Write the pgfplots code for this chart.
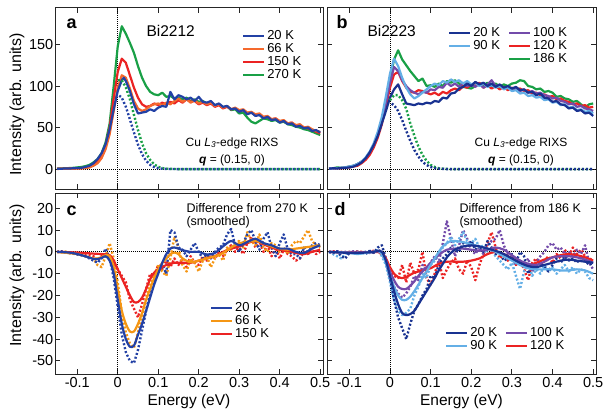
\documentclass[border=0pt]{standalone}
\usepackage{fontspec}
\setmainfont{Liberation Sans}
\usepackage{pgfplots}
\pgfplotsset{compat=1.18}

\definecolor{cBlue}{RGB}{35,65,165}
\definecolor{cOrA}{RGB}{245,105,45}
\definecolor{cRed}{RGB}{235,35,35}
\definecolor{cGreen}{RGB}{25,160,70}
\definecolor{cNavy}{RGB}{25,50,145}
\definecolor{cLBlue}{RGB}{100,175,230}
\definecolor{cPurple}{RGB}{115,75,170}
\definecolor{cOrC}{RGB}{245,150,20}

\pgfplotsset{
  panel/.style={
    scale only axis, width=268bp, height=181bp,
    xmin=-0.155, xmax=0.507,
    xtick={-0.1,0,0.1,0.2,0.3,0.4,0.5},
    tick align=inside, tick pos=both,
    major tick length=5bp,
    axis line style={line width=1bp, black!85},
    every tick/.style={line width=0.9bp, black!85},
    tick label style={font=\fontsize{14.5bp}{15bp}\selectfont},
    yticklabel style={inner xsep=1.5bp},
    /pgf/number format/assume math mode=true,
    xlabel style={font=\fontsize{15.5bp}{16bp}\selectfont},
    legend style={draw=none, fill=none, font=\fontsize{13bp}{13bp}\selectfont, inner sep=0pt, outer sep=0pt, row sep=-1.5bp},
    legend cell align=left,
    legend image code/.code={\draw[##1] (0bp,0bp) -- (21bp,0bp);},
  },
  zl/.style={black, line width=0.8bp, dash pattern=on 1bp off 1bp, forget plot},
  sl/.style={line width=2.2bp, forget plot, line join=round},
  dl/.style={line width=2.4bp, dash pattern=on 2bp off 2bp, forget plot, line join=round},
}

\begin{document}
\begin{tikzpicture}
\useasboundingbox (0,0) rectangle (605bp,-412bp);

% ---------------- panel a ----------------
\begin{axis}[panel, at={(55bp,-8bp)}, anchor=north west,
  ymin=-24, ymax=194, ytick={0,50,100,150}, xticklabels={},
  ylabel={Intensity (arb. units)},
  every axis y label/.style={at={(axis description cs:-0.142,0.467)}, rotate=90, anchor=center, font=\fontsize{16bp}{16bp}\selectfont},
  legend style={at={(axis description cs:0.698,0.887)}, anchor=north west}]
\addplot[zl] coordinates {(0,-30) (0,200)};
\addplot[zl] coordinates {(-0.2,0) (0.6,0)};
% 270 K
\addplot[sl, cGreen] coordinates {(-0.15,0.5)(-0.14,0.8)(-0.13,1)(-0.12,1.2)(-0.11,1.5)(-0.10,2)(-0.09,2.5)(-0.08,3.5)(-0.07,5)(-0.06,8)(-0.05,12)(-0.04,19)(-0.03,32)(-0.02,55)(-0.01,100)(0,148)(0.01,172)(0.02,163)(0.03,152)(0.04,140)(0.05,124)(0.06,110)(0.07,100)(0.08,93)(0.09,90)(0.10,89)(0.11,92)(0.12,87)(0.13,88)(0.14,85)(0.15,86)(0.16,84)(0.17,86)(0.18,82)(0.19,84)(0.20,81)(0.21,82)(0.22,79)(0.23,80)(0.24,77)(0.25,78)(0.26,74)(0.27,76)(0.28,71)(0.29,72)(0.30,67)(0.31,68)(0.32,62)(0.33,57)(0.34,55)(0.35,58)(0.36,61)(0.37,60)(0.38,58)(0.39,59)(0.40,56)(0.41,57)(0.42,54)(0.43,53)(0.44,51)(0.45,50)(0.46,48)(0.47,47)(0.48,45)(0.49,43)(0.50,41)};
% 150 K
\addplot[sl, cRed] coordinates {(-0.15,0.3)(-0.14,0.5)(-0.13,0.4)(-0.12,0.7)(-0.11,0.8)(-0.10,1)(-0.09,1.2)(-0.08,1.5)(-0.07,2.5)(-0.06,5)(-0.05,9)(-0.04,16)(-0.03,28)(-0.02,50)(-0.01,85)(0,117)(0.01,133)(0.02,128)(0.03,113)(0.04,98)(0.05,86)(0.06,78)(0.07,75)(0.08,76)(0.09,79)(0.10,77)(0.11,80)(0.12,78)(0.13,81)(0.14,79)(0.15,83)(0.16,80)(0.17,84)(0.18,81)(0.19,82)(0.20,78)(0.21,80)(0.22,77)(0.23,79)(0.24,75)(0.25,77)(0.26,73)(0.27,75)(0.28,72)(0.29,73)(0.30,70)(0.31,71)(0.32,67)(0.33,68)(0.34,65)(0.35,66)(0.36,62)(0.37,63)(0.38,60)(0.39,61)(0.40,57)(0.41,58)(0.42,55)(0.43,56)(0.44,52)(0.45,53)(0.46,50)(0.47,49)(0.48,47)(0.49,45)(0.50,43)};
% 66 K
\addplot[sl, cOrA] coordinates {(-0.15,0)(-0.14,0.5)(-0.13,0.3)(-0.12,0.5)(-0.11,0.4)(-0.10,0.6)(-0.09,0.8)(-0.08,1.2)(-0.07,2)(-0.06,4)(-0.05,7)(-0.04,13)(-0.03,24)(-0.02,42)(-0.01,70)(0,98)(0.01,113)(0.02,110)(0.03,97)(0.04,82)(0.05,73)(0.06,70)(0.07,72)(0.08,76)(0.09,78)(0.10,79)(0.11,77)(0.12,80)(0.13,78)(0.14,82)(0.15,85)(0.16,81)(0.17,84)(0.18,80)(0.19,83)(0.20,79)(0.21,81)(0.22,78)(0.23,80)(0.24,76)(0.25,78)(0.26,74)(0.27,76)(0.28,72)(0.29,74)(0.30,71)(0.31,72)(0.32,68)(0.33,69)(0.34,66)(0.35,67)(0.36,63)(0.37,64)(0.38,60)(0.39,61)(0.40,58)(0.41,59)(0.42,55)(0.43,56)(0.44,53)(0.45,54)(0.46,50)(0.47,51)(0.48,48)(0.49,46)(0.50,45)};
% 20 K
\addplot[sl, cBlue] coordinates {(-0.15,0.5)(-0.14,0.3)(-0.13,0.8)(-0.12,0.6)(-0.11,1.0)(-0.10,1.2)(-0.09,1.5)(-0.08,2.5)(-0.07,4)(-0.06,7)(-0.05,12)(-0.04,19)(-0.03,30)(-0.02,48)(-0.01,72)(0,94)(0.01,107)(0.015,110)(0.02,106)(0.03,94)(0.04,78)(0.05,67)(0.06,68)(0.07,69)(0.08,72)(0.09,70)(0.10,74)(0.11,76)(0.12,75)(0.13,93)(0.14,84)(0.15,89)(0.16,87)(0.17,84)(0.18,86)(0.19,82)(0.20,87)(0.21,81)(0.22,80)(0.23,82)(0.24,77)(0.25,79)(0.26,75)(0.27,76)(0.28,72)(0.29,73)(0.30,69)(0.31,71)(0.32,66)(0.33,68)(0.34,64)(0.35,65)(0.36,61)(0.37,63)(0.38,59)(0.39,60)(0.40,56)(0.41,58)(0.42,54)(0.43,55)(0.44,51)(0.45,52)(0.46,49)(0.47,50)(0.48,46)(0.49,47)(0.50,44)};
% elastic (dotted)
\addplot[dl, cGreen] coordinates {(0,107)(0.01,107)(0.02,98.5)(0.03,84)(0.04,65.5)(0.05,47)(0.06,31)(0.07,19)(0.08,11)(0.09,5.7)(0.10,2.7)(0.11,1.2)(0.12,0.5)(0.13,0.2)(0.15,0)(0.50,0)};
\addplot[dl, cBlue, dash phase=2bp] coordinates {(0,90)(0.01,86)(0.02,75)(0.03,60)(0.04,44)(0.05,29.5)(0.06,18)(0.07,10)(0.08,5.2)(0.09,2.4)(0.10,1.0)(0.11,0.4)(0.12,0.1)(0.15,0)(0.50,0)};
\addlegendimage{line width=2.2bp, cBlue}\addlegendentry{20 K}
\addlegendimage{line width=2.2bp, cOrA}\addlegendentry{66 K}
\addlegendimage{line width=2.2bp, cRed}\addlegendentry{150 K}
\addlegendimage{line width=2.2bp, cGreen}\addlegendentry{270 K}
\end{axis}

% ---------------- panel b ----------------
\begin{axis}[panel, at={(327bp,-8bp)}, anchor=north west, width=269bp,
  ymin=-24, ymax=194, ytick={0,50,100,150}, xticklabels={}, yticklabels={},
  legend columns=2,
  legend style={at={(axis description cs:0.450,0.904)}, anchor=north west,
    /tikz/every even column/.append style={column sep=6bp}}]
\addplot[zl] coordinates {(0,-30) (0,200)};
\addplot[zl] coordinates {(-0.2,0) (0.6,0)};
% 186 K
\addplot[sl, cGreen] coordinates {(-0.15,0.5)(-0.14,1)(-0.13,2)(-0.12,1.5)(-0.11,2)(-0.10,3)(-0.09,4)(-0.08,6)(-0.07,9)(-0.06,13)(-0.05,19)(-0.04,28)(-0.03,40)(-0.02,57)(-0.01,80)(0,108)(0.01,132)(0.02,143)(0.03,132)(0.04,125)(0.05,118)(0.06,112)(0.07,106)(0.08,109)(0.09,100)(0.10,101)(0.11,99)(0.12,103)(0.13,100)(0.14,106)(0.15,104)(0.16,107)(0.17,103)(0.18,99)(0.19,98)(0.20,97)(0.21,100)(0.22,103)(0.23,101)(0.24,104)(0.25,100)(0.26,103)(0.27,99)(0.28,102)(0.29,100)(0.30,103)(0.31,104)(0.32,107)(0.33,106)(0.34,100)(0.35,99)(0.36,96)(0.37,97)(0.38,93)(0.39,94)(0.40,92)(0.41,87)(0.42,88)(0.43,85)(0.44,84)(0.45,81)(0.46,82)(0.47,78)(0.48,74)(0.49,78)(0.50,79)};
% 120 K
\addplot[sl, cRed] coordinates {(-0.15,0.3)(-0.14,0.6)(-0.13,0.8)(-0.12,1)(-0.11,1.5)(-0.10,2)(-0.09,3)(-0.08,4)(-0.07,7)(-0.06,11)(-0.05,17)(-0.04,26)(-0.03,38)(-0.02,54)(-0.01,76)(0,98)(0.01,114)(0.02,117)(0.03,106)(0.04,98)(0.05,93)(0.06,92)(0.07,95)(0.08,94)(0.09,92)(0.10,90)(0.11,92)(0.12,89)(0.13,93)(0.14,91)(0.15,95)(0.16,97)(0.17,95)(0.18,100)(0.19,98)(0.20,102)(0.21,100)(0.22,104)(0.23,98)(0.24,101)(0.25,97)(0.26,100)(0.27,96)(0.28,99)(0.29,95)(0.30,98)(0.31,96)(0.32,97)(0.33,94)(0.34,95)(0.35,91)(0.36,92)(0.37,89)(0.38,90)(0.39,87)(0.40,88)(0.41,84)(0.42,85)(0.43,82)(0.44,81)(0.45,78)(0.46,79)(0.47,76)(0.48,77)(0.49,74)(0.50,75)};
% 100 K
\addplot[sl, cPurple] coordinates {(-0.15,0.5)(-0.14,1)(-0.13,1)(-0.12,1.5)(-0.11,2)(-0.10,3)(-0.09,4)(-0.08,6)(-0.07,9)(-0.06,13)(-0.05,20)(-0.04,29)(-0.03,42)(-0.02,58)(-0.01,80)(0,104)(0.01,123)(0.02,118)(0.03,107)(0.04,100)(0.05,95)(0.06,92)(0.07,90)(0.08,93)(0.09,92)(0.10,96)(0.11,95)(0.12,99)(0.13,98)(0.14,104)(0.15,100)(0.16,103)(0.17,99)(0.18,104)(0.19,100)(0.20,102)(0.21,99)(0.22,103)(0.23,98)(0.24,102)(0.25,107)(0.26,100)(0.27,101)(0.28,97)(0.29,99)(0.30,96)(0.31,98)(0.32,94)(0.33,96)(0.34,92)(0.35,94)(0.36,91)(0.37,92)(0.38,89)(0.39,88)(0.40,85)(0.41,86)(0.42,82)(0.43,81)(0.44,78)(0.45,79)(0.46,75)(0.47,76)(0.48,73)(0.49,72)(0.50,70)};
% 90 K
\addplot[sl, cLBlue] coordinates {(-0.15,0.5)(-0.14,0.8)(-0.13,1)(-0.12,1.5)(-0.11,2)(-0.10,3)(-0.09,4)(-0.08,6)(-0.07,9)(-0.06,14)(-0.05,21)(-0.04,31)(-0.03,45)(-0.02,63)(-0.01,88)(0,115)(0.01,133)(0.02,124)(0.03,110)(0.04,98)(0.05,90)(0.06,85)(0.07,88)(0.08,92)(0.09,96)(0.10,100)(0.11,103)(0.12,101)(0.13,106)(0.14,104)(0.15,108)(0.16,105)(0.17,107)(0.18,103)(0.19,106)(0.20,102)(0.21,104)(0.22,100)(0.23,103)(0.24,99)(0.25,101)(0.26,98)(0.27,100)(0.28,96)(0.29,98)(0.30,94)(0.31,95)(0.32,91)(0.33,92)(0.34,88)(0.35,89)(0.36,86)(0.37,87)(0.38,83)(0.39,84)(0.40,80)(0.41,81)(0.42,77)(0.43,78)(0.44,74)(0.45,75)(0.46,71)(0.47,72)(0.48,69)(0.49,70)(0.50,67)};
% 20 K
\addplot[sl, cNavy] coordinates {(-0.15,0.5)(-0.14,1)(-0.13,0.8)(-0.12,1.2)(-0.11,1.5)(-0.10,2)(-0.09,3)(-0.08,5)(-0.07,8)(-0.06,13)(-0.05,20)(-0.04,29)(-0.03,40)(-0.02,55)(-0.01,70)(0,86)(0.01,96)(0.02,102)(0.03,90)(0.04,79)(0.05,78)(0.06,77)(0.07,79)(0.08,78)(0.09,80)(0.10,79)(0.11,82)(0.12,81)(0.13,86)(0.14,85)(0.15,91)(0.16,92)(0.17,97)(0.18,99)(0.19,103)(0.20,100)(0.21,105)(0.22,102)(0.23,104)(0.24,100)(0.25,103)(0.26,99)(0.27,102)(0.28,98)(0.29,100)(0.30,97)(0.31,99)(0.32,95)(0.33,96)(0.34,92)(0.35,93)(0.36,89)(0.37,91)(0.38,86)(0.39,85)(0.40,81)(0.41,82)(0.42,78)(0.43,77)(0.44,73)(0.45,74)(0.46,70)(0.47,71)(0.48,67)(0.49,68)(0.50,64)};
% elastic (dotted)
\addplot[dl, cGreen] coordinates {(0,83)(0.01,89)(0.02,89)(0.03,83)(0.04,72.5)(0.05,55)(0.06,40)(0.07,27)(0.08,17)(0.09,10)(0.10,5)(0.11,2.5)(0.12,1)(0.13,0.4)(0.15,0)(0.50,0)};
\addplot[dl, cNavy, dash phase=2bp] coordinates {(0,80)(0.01,77)(0.02,70)(0.03,59)(0.04,46)(0.05,34)(0.06,23)(0.07,15)(0.08,8.7)(0.09,4.9)(0.10,2.5)(0.11,1.2)(0.12,0.5)(0.14,0)(0.50,0)};
\addlegendimage{line width=2.2bp, cNavy}\addlegendentry{20 K}
\addlegendimage{line width=2.2bp, cPurple}\addlegendentry{100 K}
\addlegendimage{line width=2.2bp, cLBlue}\addlegendentry{90 K}
\addlegendimage{line width=2.2bp, cRed}\addlegendentry{120 K}
\addlegendimage{empty legend}\addlegendentry{}
\addlegendimage{line width=2.2bp, cGreen}\addlegendentry{186 K}
\end{axis}

% ---------------- panel c ----------------
\begin{axis}[panel, at={(55bp,-193bp)}, anchor=north west,
  ymin=-56, ymax=27, ytick={-50,-40,-30,-20,-10,0,10,20},
  xlabel={Energy (eV)},
  ylabel={Intensity (arb. units)},
  every axis y label/.style={at={(axis description cs:-0.142,0.544)}, rotate=90, anchor=center, font=\fontsize{16bp}{16bp}\selectfont},
  legend style={at={(axis description cs:0.578,0.407)}, anchor=north west}]
\addplot[zl] coordinates {(0,-60) (0,30)};
\addplot[zl] coordinates {(-0.2,0) (0.6,0)};
% unsmoothed
\addplot[dl, cRed] coordinates {(-0.15,0)(-0.14,0.3)(-0.13,-0.3)(-0.12,-0.5)(-0.11,-0.5)(-0.10,-0.8)(-0.09,-1)(-0.08,-1.2)(-0.07,-1.5)(-0.06,-2)(-0.05,-4)(-0.04,-2)(-0.03,-1)(-0.02,-2)(-0.01,-5)(0,-8)(0.01,-11)(0.02,-14)(0.03,-22)(0.04,-26)(0.05,-30)(0.06,-24)(0.07,-17)(0.08,-10)(0.09,-11)(0.10,-6)(0.11,-8)(0.12,-4)(0.13,-7)(0.14,-3)(0.15,-6)(0.16,-3)(0.17,-7)(0.18,-2)(0.19,-5)(0.20,-6)(0.21,-2)(0.22,-4)(0.23,-1)(0.24,-3)(0.25,0)(0.26,-2)(0.27,1)(0.28,3)(0.29,0)(0.30,2)(0.31,-1)(0.32,4)(0.33,7)(0.34,2)(0.35,5)(0.36,0)(0.37,3)(0.38,-2)(0.39,2)(0.40,-3)(0.41,1)(0.42,-1)(0.43,-2)(0.44,-4)(0.45,-3)(0.46,0)(0.47,-1)(0.48,1)(0.49,-1)(0.50,0)};
\addplot[dl, cOrC] coordinates {(-0.15,0)(-0.14,-0.3)(-0.13,0.2)(-0.12,-0.5)(-0.11,-0.8)(-0.10,-1)(-0.09,-1.5)(-0.08,-2)(-0.07,-2.5)(-0.06,-3)(-0.05,-6)(-0.04,-7)(-0.03,-2)(-0.02,4)(-0.01,-3)(0,-14)(0.01,-28)(0.02,-37)(0.03,-42)(0.04,-44)(0.05,-37)(0.06,-30)(0.07,-22)(0.08,-15)(0.09,-11)(0.10,-6)(0.11,-9)(0.12,-11)(0.13,-3)(0.14,7)(0.15,2)(0.16,-6)(0.17,-9)(0.18,-3)(0.19,-5)(0.20,-9)(0.21,-4)(0.22,-2)(0.23,-7)(0.24,-3)(0.25,-1)(0.26,-4)(0.27,2)(0.28,1)(0.29,4)(0.30,5)(0.31,2)(0.32,9)(0.33,5)(0.34,3)(0.35,8)(0.36,2)(0.37,0)(0.38,4)(0.39,3)(0.40,0)(0.41,2)(0.42,-1)(0.43,3)(0.44,5)(0.45,4)(0.46,7)(0.47,10)(0.48,5)(0.49,3)(0.50,2)};
\addplot[dl, cBlue] coordinates {(-0.15,0)(-0.14,0.3)(-0.13,-0.3)(-0.12,-0.5)(-0.11,-0.8)(-0.10,-1.2)(-0.09,-1.5)(-0.08,-2)(-0.07,-3)(-0.06,-4)(-0.05,-5)(-0.04,-3)(-0.03,1.5)(-0.02,-3)(-0.01,-12)(0,-25)(0.01,-38)(0.02,-46)(0.03,-50)(0.04,-51)(0.05,-45)(0.06,-36)(0.07,-27)(0.08,-19)(0.09,-13)(0.10,-8)(0.11,-6)(0.12,-10)(0.13,10)(0.14,9)(0.15,2)(0.16,1)(0.17,-2)(0.18,1)(0.19,4)(0.20,0)(0.21,-3)(0.22,-1)(0.23,-3)(0.24,0)(0.25,2)(0.26,3)(0.27,8)(0.28,10.5)(0.29,3)(0.30,0)(0.31,4)(0.32,8)(0.33,10)(0.34,5)(0.35,1)(0.36,6)(0.37,9)(0.38,2)(0.39,-2)(0.40,4)(0.41,8)(0.42,1)(0.43,-1)(0.44,-1)(0.45,-3)(0.46,2)(0.47,-1)(0.48,3)(0.49,4)(0.50,3)};
% smoothed
\addplot[sl, cRed, smooth] coordinates {(-0.15,0)(-0.10,-0.3)(-0.06,-0.8)(-0.04,-1)(-0.02,-1.5)(-0.01,-4)(0,-8)(0.01,-12)(0.02,-16)(0.03,-20)(0.04,-23)(0.05,-23)(0.06,-21)(0.07,-17)(0.08,-12.5)(0.09,-9.5)(0.10,-8)(0.11,-7)(0.12,-6)(0.14,-5)(0.16,-5)(0.18,-5)(0.20,-4)(0.22,-3)(0.24,-2)(0.26,0)(0.28,1.5)(0.30,2.5)(0.32,4)(0.34,5)(0.36,3.5)(0.38,2)(0.40,1)(0.42,0.5)(0.44,-0.5)(0.46,-1)(0.48,0)(0.50,1)};
\addplot[sl, cOrC, smooth] coordinates {(-0.15,0)(-0.10,-1)(-0.08,-2)(-0.06,-3)(-0.05,-3)(-0.04,-2.5)(-0.03,-1.5)(-0.02,-2)(-0.01,-7)(0,-17)(0.01,-27)(0.02,-33)(0.03,-36.5)(0.04,-36.5)(0.05,-33)(0.06,-28)(0.07,-22)(0.08,-17)(0.09,-12)(0.10,-8)(0.11,-5)(0.12,-3)(0.13,-1)(0.14,-0.3)(0.15,-1)(0.16,-3)(0.18,-4.8)(0.20,-4)(0.22,-3)(0.24,-2)(0.26,-0.5)(0.28,2)(0.30,4)(0.32,4.5)(0.34,5)(0.36,4)(0.38,2.5)(0.40,1.5)(0.42,1)(0.44,1.5)(0.46,2)(0.48,2.5)(0.50,3)};
\addplot[sl, cBlue, smooth] coordinates {(-0.15,0)(-0.12,-0.3)(-0.10,-1)(-0.08,-2)(-0.06,-3.2)(-0.05,-3.3)(-0.04,-2.8)(-0.03,-2)(-0.02,-4)(-0.01,-10)(0,-22)(0.01,-33)(0.02,-40)(0.03,-43.5)(0.04,-43)(0.05,-38)(0.06,-33)(0.07,-27)(0.08,-21)(0.09,-15)(0.10,-10)(0.11,-5)(0.12,-1)(0.13,1.5)(0.14,2)(0.15,1.5)(0.16,0.8)(0.18,0)(0.20,0)(0.22,-1.2)(0.24,-0.5)(0.26,2.5)(0.28,5)(0.30,3)(0.32,4.5)(0.34,6)(0.36,4)(0.38,3)(0.40,1.5)(0.42,1.5)(0.44,0)(0.46,-0.5)(0.48,1.5)(0.50,3)};
\addlegendimage{line width=2.2bp, cBlue}\addlegendentry{20 K}
\addlegendimage{line width=2.2bp, cOrC}\addlegendentry{66 K}
\addlegendimage{line width=2.2bp, cRed}\addlegendentry{150 K}
\end{axis}

% ---------------- panel d ----------------
\begin{axis}[panel, at={(327bp,-193bp)}, anchor=north west, width=269bp,
  ymin=-56, ymax=27, ytick={-50,-40,-30,-20,-10,0,10,20}, yticklabels={},
  xlabel={Energy (eV)},
  legend columns=2,
  legend style={at={(axis description cs:0.439,0.266)}, anchor=north west,
    /tikz/every even column/.append style={column sep=6bp}}]
\addplot[zl] coordinates {(0,-60) (0,30)};
\addplot[zl] coordinates {(-0.2,0) (0.6,0)};
% unsmoothed
\addplot[dl, cRed] coordinates {(-0.15,0)(-0.14,0.3)(-0.13,-0.3)(-0.12,0)(-0.11,-0.5)(-0.10,0)(-0.09,-0.3)(-0.08,0.3)(-0.07,0)(-0.06,-0.3)(-0.05,0)(-0.04,0.5)(-0.03,0)(-0.02,-1)(-0.01,-4)(0,-8)(0.01,-11)(0.02,-12)(0.03,-6)(0.04,-14)(0.05,-5)(0.06,-10)(0.07,-8)(0.08,0)(0.09,-12)(0.10,-15)(0.11,-10)(0.12,-4)(0.13,-12)(0.14,-8)(0.15,-5)(0.16,-3)(0.17,-8)(0.18,-10)(0.19,-4)(0.20,-7)(0.21,-13)(0.22,-6)(0.23,-1)(0.24,4)(0.25,9)(0.26,2)(0.27,-3)(0.28,-1)(0.29,-4)(0.30,-2)(0.31,-6)(0.32,-4)(0.33,-8)(0.34,-13)(0.35,-5)(0.36,-3)(0.37,-6)(0.38,-4)(0.39,-2)(0.40,-5)(0.41,-1)(0.42,-3)(0.43,1)(0.44,-2)(0.45,2)(0.46,-1)(0.47,1)(0.48,-2)(0.49,-3)(0.50,-4)};
\addplot[dl, cPurple] coordinates {(-0.15,0)(-0.14,-0.3)(-0.13,0.3)(-0.12,-0.5)(-0.11,0)(-0.10,-0.3)(-0.09,0.3)(-0.08,0)(-0.07,-0.3)(-0.06,0)(-0.05,-0.5)(-0.04,0)(-0.03,1)(-0.02,0)(-0.01,-5)(0,-11)(0.01,-16)(0.02,-19)(0.03,-21)(0.04,-19)(0.05,-16)(0.06,-11)(0.07,-13)(0.08,-6)(0.09,-9)(0.10,-5)(0.11,-2)(0.12,-5)(0.13,4)(0.14,14)(0.15,6)(0.16,-2)(0.17,3)(0.18,10)(0.19,6)(0.20,1)(0.21,-1)(0.22,2)(0.23,-1)(0.24,3)(0.25,5)(0.26,6)(0.27,10)(0.28,3)(0.29,-1)(0.30,-3)(0.31,-6)(0.32,-4)(0.33,-7)(0.34,-3)(0.35,-9)(0.36,-5)(0.37,-2)(0.38,0)(0.39,3)(0.40,4)(0.41,1)(0.42,2)(0.43,-1)(0.44,0)(0.45,-2)(0.46,1)(0.47,-1)(0.48,3)(0.49,-5)(0.50,-8)};
\addplot[dl, cLBlue] coordinates {(-0.15,0)(-0.14,-1)(-0.13,-2)(-0.12,-3)(-0.11,-1)(-0.10,0)(-0.09,-0.5)(-0.08,0)(-0.07,-0.5)(-0.06,0)(-0.05,0.3)(-0.04,0)(-0.03,1)(-0.02,-2)(-0.01,-6)(0,-14)(0.01,-22)(0.02,-27)(0.03,-29)(0.04,-28)(0.05,-26)(0.06,-20)(0.07,-16)(0.08,-10)(0.09,-12)(0.10,-6)(0.11,-4)(0.12,-1)(0.13,2)(0.14,4)(0.15,7)(0.16,3)(0.17,6)(0.18,9)(0.19,5)(0.20,4)(0.21,6)(0.22,2)(0.23,3)(0.24,-1)(0.25,1)(0.26,-2)(0.27,-4)(0.28,-6)(0.29,-8)(0.30,-5)(0.31,-11)(0.32,-17)(0.33,-9)(0.34,-5)(0.35,-11)(0.36,-8)(0.37,-10)(0.38,-6)(0.39,-9)(0.40,-7)(0.41,-10)(0.42,-8)(0.43,-6)(0.44,-9)(0.45,-7)(0.46,-10)(0.47,-8)(0.48,-9)(0.49,-12)(0.50,-13)};
\addplot[dl, cNavy] coordinates {(-0.15,0)(-0.14,-0.5)(-0.13,0.3)(-0.12,-2)(-0.11,-3)(-0.10,-0.5)(-0.09,0)(-0.08,-0.5)(-0.07,0)(-0.06,-1)(-0.05,0.5)(-0.04,-0.5)(-0.03,2)(-0.02,3)(-0.01,-3)(0,-12)(0.01,-22)(0.02,-30)(0.03,-35)(0.04,-40)(0.05,-33)(0.06,-27)(0.07,-24)(0.08,-20)(0.09,-17)(0.10,-11)(0.11,-12)(0.12,-6)(0.13,-3)(0.14,-1)(0.15,2)(0.16,1)(0.17,0)(0.18,4)(0.19,2)(0.20,5)(0.21,1)(0.22,3)(0.23,0)(0.24,5)(0.25,2)(0.26,-1)(0.27,0)(0.28,-4)(0.29,-3)(0.30,-1)(0.31,-5)(0.32,0)(0.33,-2)(0.34,-10)(0.35,-6)(0.36,-8)(0.37,-5)(0.38,-7)(0.39,-9)(0.40,-6)(0.41,-3)(0.42,-5)(0.43,-2)(0.44,-4)(0.45,-3)(0.46,-5)(0.47,-2)(0.48,-4)(0.49,-6)(0.50,-5)};
% smoothed
\addplot[sl, cRed, smooth] coordinates {(-0.15,0)(-0.10,-0.3)(-0.06,-0.3)(-0.04,0)(-0.02,-0.5)(-0.01,-3)(0,-7)(0.01,-10)(0.02,-11.5)(0.03,-12)(0.04,-11.5)(0.05,-10.5)(0.06,-9.5)(0.07,-9)(0.08,-8.5)(0.09,-8)(0.10,-7.5)(0.11,-6.5)(0.12,-5.5)(0.14,-4.5)(0.16,-4.5)(0.18,-4.5)(0.20,-4)(0.22,-3)(0.24,-1)(0.26,0)(0.28,-1)(0.30,-3)(0.32,-5)(0.34,-6)(0.36,-5)(0.38,-3.5)(0.40,-2.5)(0.42,-1.5)(0.44,-1)(0.46,-1.5)(0.48,-2.5)(0.50,-4)};
\addplot[sl, cPurple, smooth] coordinates {(-0.15,0)(-0.10,-0.3)(-0.06,-0.3)(-0.04,0)(-0.03,0.3)(-0.02,-0.5)(-0.01,-4)(0,-9)(0.01,-13)(0.02,-16)(0.03,-17)(0.04,-17)(0.05,-15.5)(0.06,-13.5)(0.07,-11)(0.08,-9)(0.09,-7)(0.10,-5)(0.11,-3)(0.12,-1.5)(0.13,0)(0.14,1)(0.16,1.5)(0.18,1.5)(0.20,1)(0.22,0.5)(0.24,1)(0.26,2)(0.28,1)(0.30,-1.5)(0.32,-4)(0.34,-5.5)(0.36,-6)(0.38,-4.5)(0.40,-2.5)(0.42,-2)(0.44,-2)(0.46,-2.5)(0.48,-3.5)(0.50,-5)};
\addplot[sl, cLBlue, smooth] coordinates {(-0.15,0)(-0.10,-0.5)(-0.08,-1)(-0.06,-0.5)(-0.04,0)(-0.03,0.5)(-0.02,-1)(-0.01,-5)(0,-11)(0.01,-16)(0.02,-20)(0.03,-22)(0.04,-22)(0.05,-20.5)(0.06,-18)(0.07,-15)(0.08,-12)(0.09,-9)(0.10,-6)(0.11,-3)(0.12,0)(0.13,2.5)(0.14,4)(0.15,5)(0.16,5)(0.18,4.5)(0.20,3.5)(0.22,2.5)(0.24,1.5)(0.26,0)(0.28,-2)(0.30,-4)(0.32,-6)(0.34,-7.5)(0.36,-8)(0.38,-8)(0.40,-8)(0.42,-8.5)(0.44,-8.5)(0.46,-8)(0.48,-8.5)(0.50,-10)};
\addplot[sl, cNavy, smooth] coordinates {(-0.15,0)(-0.12,-0.3)(-0.10,-0.5)(-0.08,-0.5)(-0.06,-0.3)(-0.04,0)(-0.03,0.5)(-0.02,0)(-0.01,-4)(0,-11)(0.01,-18)(0.02,-24)(0.03,-28)(0.04,-29)(0.05,-28.5)(0.06,-27)(0.07,-24)(0.08,-21)(0.09,-18)(0.10,-15)(0.11,-12)(0.12,-8.5)(0.13,-5.5)(0.14,-2.5)(0.15,-0.5)(0.16,1)(0.18,2.5)(0.20,3)(0.22,2.5)(0.24,1.5)(0.26,0.5)(0.28,-1)(0.30,-3)(0.32,-5)(0.34,-6.5)(0.36,-7)(0.38,-6)(0.40,-5)(0.42,-4)(0.44,-3.5)(0.46,-4)(0.48,-4.5)(0.50,-5)};
\addlegendimage{line width=2.2bp, cNavy}\addlegendentry{20 K}
\addlegendimage{line width=2.2bp, cPurple}\addlegendentry{100 K}
\addlegendimage{line width=2.2bp, cLBlue}\addlegendentry{90 K}
\addlegendimage{line width=2.2bp, cRed}\addlegendentry{120 K}
\end{axis}

% ---------------- annotations ----------------
\node[font=\fontsize{18bp}{18bp}\selectfont\bfseries, anchor=base west] at (63bp,-28bp) {a};
\node[font=\fontsize{15.5bp}{16bp}\selectfont, anchor=base west] at (143bp,-36bp) {Bi2212};
\node[font=\fontsize{12bp}{12bp}\selectfont, anchor=base] at (232bp,-146bp) {Cu \textit{L}\textsubscript{\textit{3}}-edge RIXS};
\node[font=\fontsize{12bp}{12bp}\selectfont, anchor=base] at (232bp,-163bp) {\textbf{\textit{q}} = (0.15, 0)};
\node[font=\fontsize{18bp}{18bp}\selectfont\bfseries, anchor=base west] at (333bp,-28bp) {b};
\node[font=\fontsize{15.5bp}{16bp}\selectfont, anchor=base west] at (364bp,-36bp) {Bi2223};
\node[font=\fontsize{12bp}{12bp}\selectfont, anchor=base] at (521bp,-146bp) {Cu \textit{L}\textsubscript{\textit{3}}-edge RIXS};
\node[font=\fontsize{12bp}{12bp}\selectfont, anchor=base] at (521bp,-163bp) {\textbf{\textit{q}} = (0.15, 0)};
\node[font=\fontsize{18bp}{18bp}\selectfont\bfseries, anchor=base west] at (63bp,-215bp) {c};
\node[font=\fontsize{12.5bp}{13bp}\selectfont, anchor=base west] at (183bp,-212bp) {Difference from 270 K};
\node[font=\fontsize{12.5bp}{13bp}\selectfont, anchor=base west] at (183bp,-225bp) {(smoothed)};
\node[font=\fontsize{18bp}{18bp}\selectfont\bfseries, anchor=base west] at (331bp,-215bp) {d};
\node[font=\fontsize{12.5bp}{13bp}\selectfont, anchor=base west] at (456bp,-212bp) {Difference from 186 K};
\node[font=\fontsize{12.5bp}{13bp}\selectfont, anchor=base west] at (456bp,-225bp) {(smoothed)};
\end{tikzpicture}
\end{document}
